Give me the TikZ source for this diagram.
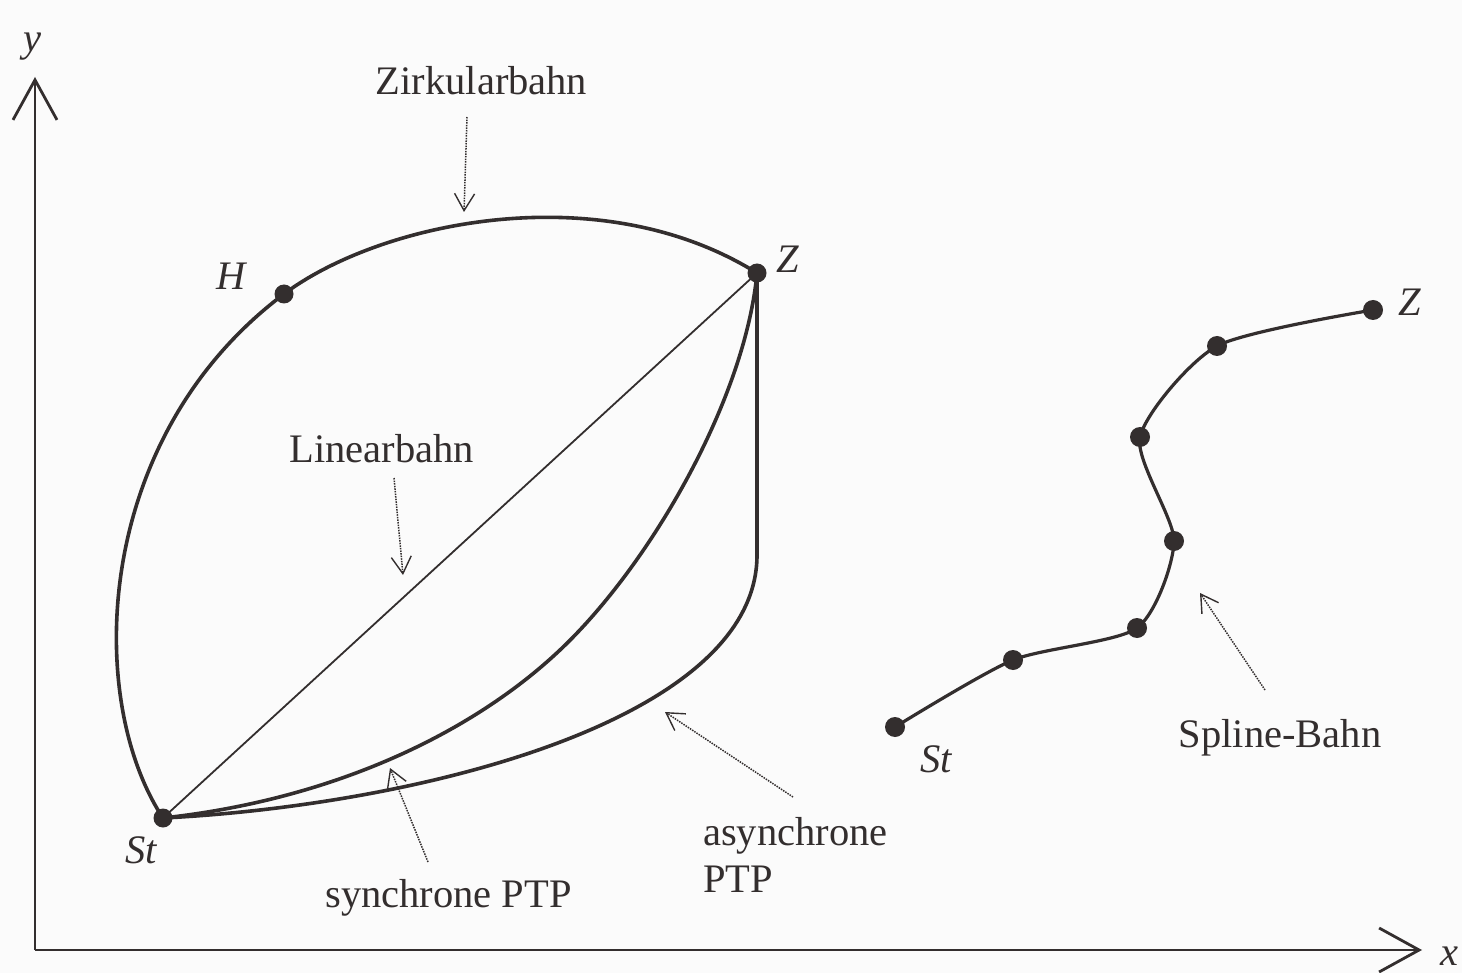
\documentclass[tikz,border=0pt]{standalone}
\usepackage{fontspec}
\setmainfont{Liberation Serif}
\usetikzlibrary{arrows.meta}
\definecolor{ink}{HTML}{332E2E}
\definecolor{paper}{HTML}{FBFBFB}
\begin{document}
\begin{tikzpicture}[x=1pt, y=-1pt,
  dot/.style={circle, fill=ink, inner sep=0pt, minimum size=19pt},
  sdot/.style={dot, minimum size=20pt},
  trajectory/.style={draw=ink, line width=3.6pt, line cap=round, line join=round},
  straightpath/.style={draw=ink, line width=1.8pt, line cap=round},
  splinepath/.style={draw=ink, line width=3.2pt, line cap=round},
  axis/.style={draw=ink, line width=2.8pt,
    -{Straight Barb[length=40pt, width=44pt, line width=2.8pt]}},
  pointer/.style={draw=ink, line width=1.5pt, dash pattern=on 1.5pt off 1.1pt,
    -{Straight Barb[length=17pt, width=20pt, line width=1.4pt]}},
  lbl/.style={text=ink, inner sep=0pt, anchor=base,
    font=\fontsize{40.5}{47}\selectfont},
  ptname/.style={lbl, font=\fontsize{40.5}{47}\selectfont\itshape},
]
% page
\fill[paper] (0,0) rectangle (1462,973);
\useasboundingbox (0,0) rectangle (1462,973);

% axes
\coordinate (origin) at (35,950);
\coordinate (ytip) at (35,77);
\coordinate (xtip) at (1422,950);
\draw[axis] (origin) -- (ytip);
\draw[axis] (origin) -- (xtip);
\node[ptname] (ylab) at (32,52) {y};
\node[ptname] (xlab) at (1449,965) {x};

% start, via and goal points of the left-hand paths
\node[dot] (st) at (163,818) {};
\node[dot] (h)  at (284,294) {};
\node[dot] (z)  at (757,273) {};
\node[ptname] (stlab) at (141,863) {St};
\node[ptname] (hlab)  at (231,290) {H};
\node[ptname] (zlab)  at (788,273) {Z};

% circular path St -> H -> Z
\draw[trajectory] (st.center) .. controls (85,700) and (92,438) .. (h.center)
  .. controls (380,222) and (600,175) .. (z.center);
% linear path
\draw[straightpath] (st.center) -- (z.center);
% synchronous PTP
\coordinate (syncmid) at (560,650);
\draw[trajectory] (st.center) .. controls (330,800) and (470,735) .. (syncmid)
  .. controls (650,565) and (745,400) .. (z.center);
% asynchronous PTP
\coordinate (asynccorner) at (757,555);
\draw[trajectory] (st.center) .. controls (420,805) and (757,720) .. (asynccorner)
  -- (z.center);

% spline path through support points
\node[sdot] (s0) at (895,727) {};
\node[sdot] (s1) at (1013,660) {};
\node[sdot] (s2) at (1137,628) {};
\node[sdot] (s3) at (1174,541) {};
\node[sdot] (s4) at (1140,437) {};
\node[sdot] (s5) at (1217,346) {};
\node[sdot] (s6) at (1373,310) {};
\draw[splinepath] plot[smooth, tension=0.42] coordinates
  {(s0.center) (s1.center) (s2.center) (s3.center) (s4.center) (s5.center) (s6.center)};
\node[ptname] (s0lab) at (936,772) {St};
\node[ptname] (s6lab) at (1410,316) {Z};

% labels with dotted pointers
\node[lbl] (zirk) at (481.5,95) {Zirkularbahn};
\coordinate (zirktail) at (467,117);
\coordinate (zirktip) at (464,212);
\draw[pointer] (zirktail) -- (zirktip);

\node[lbl] (lin) at (381.5,462) {Linearbahn};
\coordinate (lintail) at (394,478);
\coordinate (lintip) at (403,575);
\draw[pointer] (lintail) -- (lintip);

\node[lbl] (sync) at (448.5,907) {synchrone PTP};
\coordinate (synctail) at (428,862);
\coordinate (synctip) at (390,768);
\draw[pointer] (synctail) -- (synctip);

\node[lbl, anchor=base west] (asyncA) at (703,845) {asynchrone};
\node[lbl, anchor=base west] (asyncB) at (703,892) {PTP};
\coordinate (asynctail) at (793,797);
\coordinate (asynctip) at (665,712);
\draw[pointer] (asynctail) -- (asynctip);

\node[lbl] (spl) at (1280,747) {Spline-Bahn};
\coordinate (spltail) at (1265,690);
\coordinate (spltip) at (1200,593);
\draw[pointer] (spltail) -- (spltip);
\end{tikzpicture}
\end{document}
